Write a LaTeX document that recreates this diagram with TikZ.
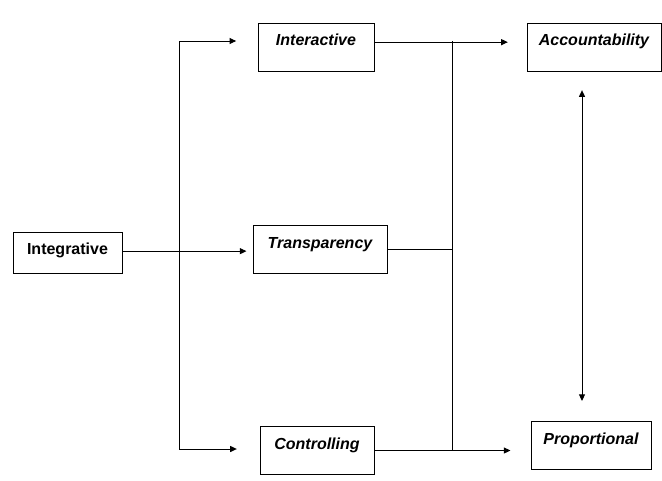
\documentclass[tikz,border=0pt]{standalone}
\usepackage{fontspec}
\setmainfont{Liberation Sans}
\usetikzlibrary{arrows.meta}

\begin{document}
\begin{tikzpicture}[x=0.75pt,y=-0.75pt,line width=0.75pt,
   box/.style={draw,inner sep=0pt,text height=17pt,text depth=19pt,
      font=\fontsize{12}{14}\selectfont\bfseries\itshape},
   arr/.style={-{Triangle[length=5pt,width=4.5pt]}},
   arrs/.style={{Triangle[length=5pt,width=4.5pt]}-{Triangle[length=5pt,width=4.5pt]}}]
   \useasboundingbox (0,0) rectangle (662,480);

   \node[box,font=\fontsize{12}{14}\selectfont\bfseries,text depth=13.75pt,
      minimum width=81.75pt] (intg) at (67.5,252.5) {Integrative};
   \node[box,minimum width=87pt]    (inter) at (316,47)    {Interactive};
   \node[box,minimum width=100.5pt] (trans) at (320,249.5) {Transparency};
   \node[box,minimum width=85.5pt]  (ctrl)  at (317,450.5) {Controlling};
   \node[box,minimum width=100.5pt] (acc)   at (594,47)    {Accountability};
   \node[box,minimum width=90pt]    (prop)  at (591,445.5) {Proportional};

   \coordinate (up) at (179,41);
   \coordinate (dn) at (179,449);
   \coordinate (jn) at (452,41);

   \draw (up) -- (dn);
   \draw[arr,shorten >=16pt] (up) -- (up -| inter.west);
   \draw[arr,shorten >=17pt] (dn) -- (dn -| ctrl.west);
   \draw[arr,shorten >=4.5pt] (intg.mid east) -- (intg.mid east -| trans.west);

   \draw[arr,shorten >=14pt] (inter.mid east) -- (inter.mid east -| acc.west);
   \draw (trans.east) -- (trans.east -| jn);
   \draw (jn) -- (jn |- ctrl.east);
   \draw[arr,shorten >=15pt] (ctrl.east) -- (ctrl.east -| prop.west);

   \draw[arrs,shorten <=14pt,shorten >=15pt] ([xshift=-9pt]acc.south)
      -- ([xshift=-9pt]acc.south |- prop.north);
\end{tikzpicture}
\end{document}
